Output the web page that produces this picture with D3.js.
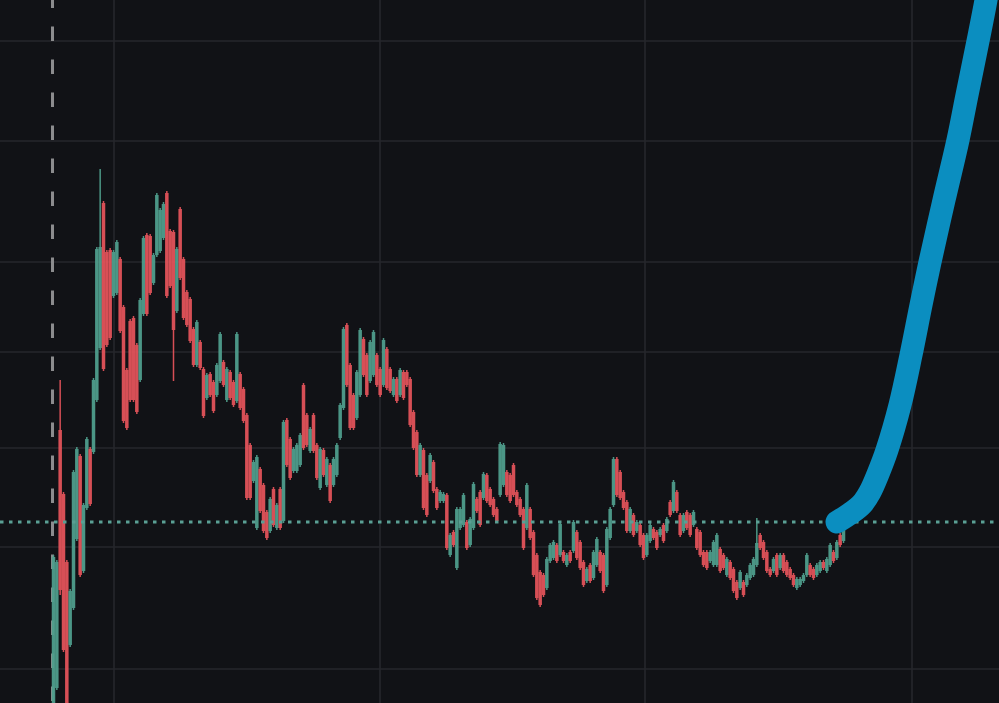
<!DOCTYPE html>
<html>
<head>
<meta charset="utf-8">
<script src="https://cdn.jsdelivr.net/npm/d3@7"></script>
<style>
  html, body { margin: 0; padding: 0; background: #111216; }
  svg { display: block; }
</style>
</head>
<body>
<svg id="chart" width="999" height="703"></svg>
<script>
// OHLC candles: [open, high, low, close]
const candles = [
[0,148,-2,146],[15,143,13,141],[273,323,108,113],[209,211,51,53],[141,143,-2,0],
[58,114,56,112],[95,233,93,231],[164,256,162,254],[247,249,126,128],[132,200,130,198],
[195,266,193,264],[254,256,197,199],[251,325,249,323],[303,456,301,454],[355,534,353,456],
[500,502,332,334],[451,453,356,358],[453,455,363,365],[407,453,405,451],[410,463,408,461],
[444,446,370,372],[396,398,280,282],[333,335,273,275],[382,384,301,303],[385,387,301,303],
[358,360,289,291],[323,405,321,403],[389,467,387,465],[468,470,387,389],[467,469,408,410],
[420,450,418,448],[448,510,446,508],[452,495,450,493],[465,501,463,499],[510,512,405,407],
[472,474,415,417],[471,473,322,373],[392,456,390,454],[494,496,423,425],[444,446,383,385],
[411,413,376,378],[404,406,360,362],[374,376,336,338],[338,383,336,381],[361,363,333,335],
[334,336,285,287],[305,330,303,328],[329,331,306,308],[321,323,290,292],[308,340,306,338],
[322,371,320,369],[341,343,316,318],[303,336,301,334],[331,333,303,305],[321,323,296,298],
[302,371,300,369],[329,331,293,295],[314,316,280,282],[288,290,203,205],[258,260,203,205],
[222,243,220,241],[175,248,173,246],[234,236,190,192],[218,220,170,172],[191,193,163,165],
[172,206,170,204],[214,216,176,178],[175,200,173,198],[214,216,173,175],[182,283,180,281],
[283,285,236,238],[264,266,223,225],[232,256,230,254],[232,260,230,258],[238,270,236,268],
[318,320,253,255],[288,290,256,258],[252,276,250,274],[288,290,250,252],[258,260,223,225],
[215,256,213,254],[253,255,226,228],[218,246,216,244],[238,240,200,202],[218,246,216,244],
[228,260,226,258],[265,300,263,298],[295,376,293,374],[378,380,316,318],[338,340,273,275],
[308,310,273,275],[285,333,283,331],[308,375,306,373],[364,366,326,328],[348,350,306,308],
[322,363,320,361],[328,373,326,371],[348,350,316,318],[334,336,306,308],[318,365,316,363],
[354,356,313,315],[334,336,310,312],[308,326,306,324],[324,326,300,302],[308,335,306,333],
[331,333,303,305],[331,333,316,318],[324,326,276,278],[291,293,253,255],[271,273,226,228],
[228,260,226,258],[253,255,193,195],[228,230,186,188],[222,250,220,248],[241,243,210,212],
[214,216,193,195],[202,213,200,211],[202,211,200,209],[208,210,153,155],[148,170,146,168],
[171,173,156,158],[135,196,133,194],[175,196,173,194],[178,210,176,208],[181,183,153,155],
[158,186,156,184],[175,221,173,219],[204,206,190,192],[211,213,176,178],[205,231,203,229],
[228,230,200,202],[214,216,196,198],[204,206,186,188],[194,196,180,182],[208,261,206,259],
[218,260,216,258],[231,233,206,208],[228,230,200,202],[238,240,206,208],[211,213,196,198],
[204,206,186,188],[194,196,153,155],[175,220,173,218],[194,196,163,165],[171,173,126,128],
[148,150,103,105],[131,133,96,98],[128,130,106,108],[115,146,113,144],[142,160,140,158],
[145,163,143,161],[158,160,140,142],[148,181,146,179],[151,153,140,142],[138,150,136,148],
[151,153,140,142],[152,183,150,181],[171,173,143,145],[161,163,133,135],[141,143,116,118],
[122,136,120,134],[138,140,120,122],[125,153,123,151],[138,166,136,164],[151,153,130,132],
[148,150,110,112],[118,176,116,174],[165,196,163,194],[198,246,196,244],[244,246,206,208],
[231,233,203,205],[211,213,193,195],[201,203,170,172],[172,196,170,194],[188,190,166,168],
[172,183,170,181],[178,180,156,158],[168,170,143,145],[148,170,146,168],[162,180,160,178],
[174,176,163,165],[171,173,153,155],[168,176,166,174],[178,180,160,162],[172,186,170,184],
[201,203,186,188],[192,223,190,221],[211,213,190,192],[188,190,166,168],[172,190,170,188],
[191,193,173,175],[188,190,166,168],[178,193,176,191],[174,176,153,155],[171,173,146,148],
[151,153,136,138],[151,153,133,135],[142,153,140,151],[138,163,136,161],[138,170,136,168],
[154,156,130,132],[148,150,133,135],[128,146,126,144],[141,143,123,125],[134,136,110,112],
[121,123,103,105],[115,133,113,131],[121,123,106,108],[118,130,116,128],[125,140,123,138],
[128,146,126,144],[138,185,136,160],[168,170,153,155],[161,163,143,145],[151,153,130,132],
[134,136,126,128],[132,146,130,144],[148,150,126,128],[135,150,133,148],[148,150,130,132],
[141,143,126,128],[134,136,123,125],[128,130,116,118],[115,126,113,124],[118,126,116,124],
[122,130,120,128],[128,150,126,148],[138,140,126,128],[134,136,123,125],[128,140,126,138],
[132,143,130,141],[141,143,133,135],[132,146,130,144],[138,160,136,158],[151,153,140,142],
[145,163,143,161],[168,170,156,158],[162,181,160,179]
];

// Price grid levels and time grid (bar index) positions
const priceTicks = [662, 562, 441, 351, 255, 156, 34];
const timeTicks = [18.15, 97.95, 177.45, 257.55];
const sessionStartBar = -0.3;
const lastPrice = 181;

// Projection path: [bar index, price]
const projection = [
  [235.05,181],[239.25,190],[242.55,199],[244.95,211],[247.35,229],[250.05,253],
  [253.95,298],[257.25,348],[260.25,398],[262.95,441],[267.15,503],[271.35,563],
  [274.05,608],[277.35,662],[279.75,703],[280.95,728]
];

const W = 999, H = 703;
const svg = d3.select("#chart");

const x = d3.scaleLinear().domain([0, candles.length - 1]).range([53.5, 843.5]);
const y = d3.scaleLinear().domain([0, 703]).range([703, 0]);

svg.append("rect").attr("width", W).attr("height", H).attr("fill", "#111216");

// grid
const grid = svg.append("g").attr("stroke", "#26272c").attr("stroke-width", 1.6);
grid.selectAll("line.h").data(priceTicks).join("line")
  .attr("x1", 0).attr("x2", W)
  .attr("y1", d => y(d)).attr("y2", d => y(d));
grid.selectAll("line.v").data(timeTicks).join("line")
  .attr("y1", 0).attr("y2", H)
  .attr("x1", d => x(d)).attr("x2", d => x(d));

// session dashed line
svg.append("line")
  .attr("x1", x(sessionStartBar)).attr("x2", x(sessionStartBar))
  .attr("y1", 0).attr("y2", H)
  .attr("stroke", "#8c8c8e").attr("stroke-width", 3)
  .attr("stroke-dasharray", "14.5 18.5").attr("stroke-dashoffset", 6.5);

// candles
const up = "#4f9e8c", down = "#e2535a";
const bw = 3.5;
const cg = svg.append("g").attr("opacity", 0.95);
const c = cg.selectAll("g").data(candles).join("g")
  .attr("fill", d => d[3] >= d[0] ? up : down)
  .attr("stroke", d => d[3] >= d[0] ? up : down);
c.append("line")
  .attr("x1", (d, i) => x(i)).attr("x2", (d, i) => x(i))
  .attr("y1", d => y(d[1])).attr("y2", d => y(d[2]))
  .attr("stroke-width", 1.5);
c.append("rect")
  .attr("x", (d, i) => x(i) - bw / 2)
  .attr("width", bw)
  .attr("y", d => y(Math.max(d[0], d[3])))
  .attr("height", d => Math.max(1, Math.abs(y(d[0]) - y(d[3]))))
  .attr("stroke", "none");

// last price dotted line
svg.append("line")
  .attr("x1", 0).attr("x2", W)
  .attr("y1", y(lastPrice)).attr("y2", y(lastPrice))
  .attr("stroke", "#5a9f94").attr("stroke-width", 3)
  .attr("stroke-dasharray", "3.5 5.5");

// projection
const line = d3.line().x(d => x(d[0])).y(d => y(d[1])).curve(d3.curveCatmullRom.alpha(0.5));
svg.append("path").datum(projection)
  .attr("d", line)
  .attr("fill", "none")
  .attr("stroke", "#0b8ec0")
  .attr("stroke-width", 23)
  .attr("stroke-linecap", "round")
  .attr("stroke-linejoin", "round");
</script>
</body>
</html>
